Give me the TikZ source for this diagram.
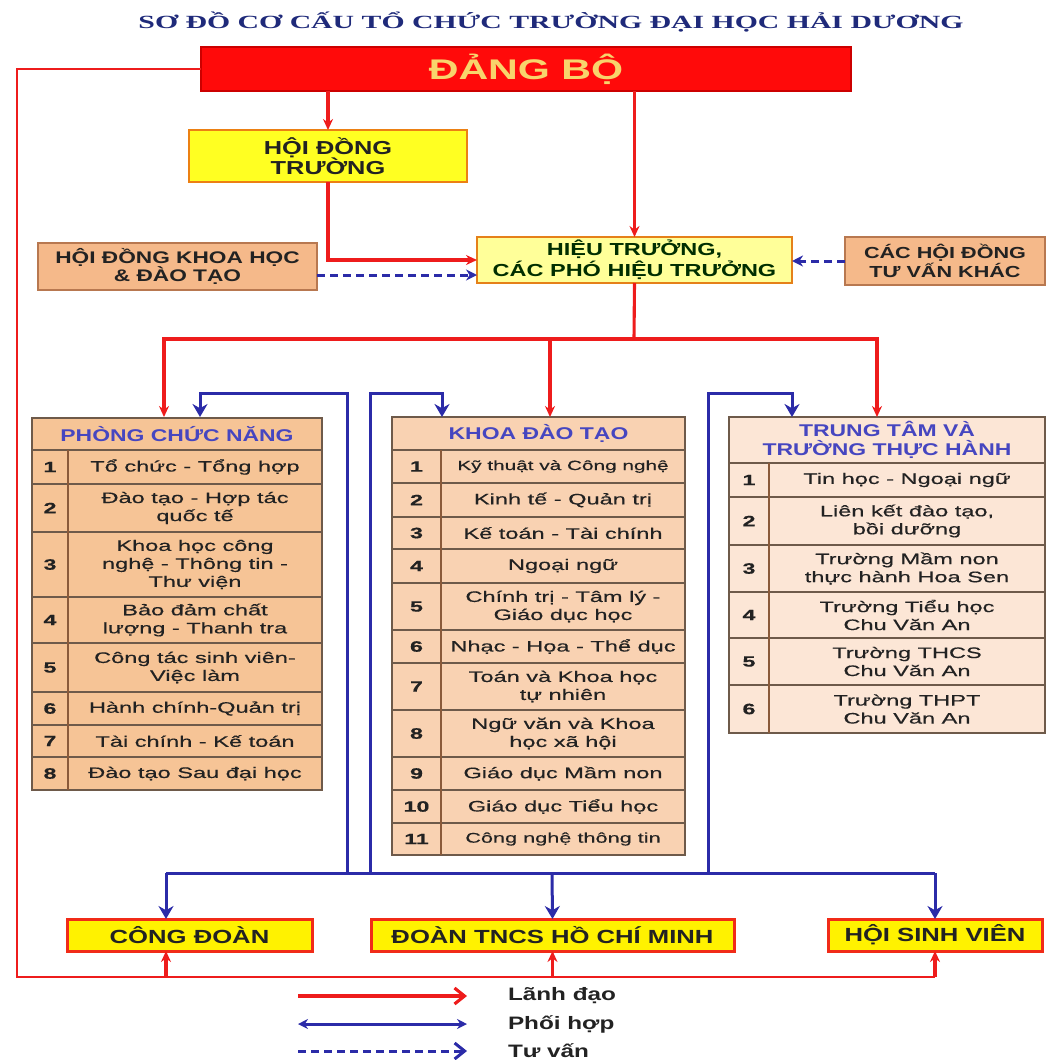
\documentclass[tikz,border=0pt]{standalone}
\usepackage{fontspec}
\setmainfont{Liberation Sans}
\newfontfamily\boxfont[FakeStretch=1.35]{Liberation Sans}
\newfontfamily\cellfont[FakeStretch=1.55,FakeBold=0.4]{Liberation Sans}
\newfontfamily\bigfont[FakeStretch=1.45]{Liberation Sans}
\newfontfamily\titlefont[FakeStretch=1.6]{Liberation Serif}
\usepackage{xcolor}
\usetikzlibrary{arrows.meta,positioning,calc}

\definecolor{leadred}{HTML}{EE1C1C}
\definecolor{coopblue}{HTML}{2B2BA8}
\definecolor{titleblue}{HTML}{1F2A7A}
\definecolor{headblue}{HTML}{4646C0}
\definecolor{partyred}{HTML}{FF0A0A}
\definecolor{partytext}{HTML}{F8D46C}
\definecolor{councilyellow}{HTML}{FFFF22}
\definecolor{rectoryellow}{HTML}{FFFF99}
\definecolor{peach}{HTML}{F5B98A}
\definecolor{peachline}{HTML}{B87850}
\definecolor{pcnfill}{HTML}{F6C496}
\definecolor{kdtfill}{HTML}{F9D2B2}
\definecolor{ttfill}{HTML}{FCE6D6}
\definecolor{cellline}{HTML}{6E5A4A}
\definecolor{divline}{HTML}{8A5A3A}
\definecolor{textdark}{HTML}{222222}

\begin{document}
\begin{tikzpicture}[
  x=0.5pt, y=-0.5pt,
  >={Stealth[length=5.5pt,width=5pt]},
  every node/.style={inner sep=0pt, outer sep=0pt, text=textdark},
  wire/.style={draw=leadred, line width=1.55pt},
  lead/.style={wire, ->},
  coopwire/.style={draw=coopblue, line width=1.5pt},
  coop/.style={coopwire, -{Stealth[length=6.5pt,width=7.5pt]}},
  adv/.style={draw=coopblue, line width=1.5pt, dash pattern=on 4pt off 2.5pt, -{Stealth[length=5.5pt,width=5.5pt]}},
  unitbox/.style={draw=peachline, line width=1pt, align=center, font=\boxfont\bfseries\fontsize{8.4}{9.2}\selectfont},
  massbox/.style={draw=leadred!85!orange, fill=yellow, line width=1.5pt, minimum height=16pt, font=\boxfont\bfseries\fontsize{9.5}{11}\selectfont},
  hdr/.style={draw=cellline, line width=0.7pt, anchor=north west, align=center, text=headblue, font=\boxfont\bfseries\fontsize{8.5}{9.5}\selectfont},
  numcell/.style={draw=cellline, line width=0.7pt, anchor=north west, font=\cellfont\bfseries\fontsize{7.5}{9}\selectfont},
  txtcell/.style={draw=cellline, line width=0.7pt, anchor=north west, align=center, font=\cellfont\fontsize{7.6}{9}\selectfont},
  divider/.style={draw=divline, line width=1.4pt},
  keytext/.style={anchor=west, font=\boxfont\bfseries\fontsize{9}{10}\selectfont},
]
  \useasboundingbox (0,0) rectangle (1057,1060);

  \node[text=titleblue, font=\titlefont\bfseries\fontsize{9.3}{11}\selectfont] (title) at (551,22)
    {SƠ ĐỒ CƠ CẤU TỔ CHỨC TRƯỜNG ĐẠI HỌC HẢI DƯƠNG};

  % leadership boxes
  \node[fill=partyred, draw=red!80!black, line width=0.6pt, minimum width=325pt, minimum height=22pt,
        text=partytext, font=\bigfont\bfseries\fontsize{14.2}{16}\selectfont] (dang) at (526,69) {ĐẢNG BỘ};
  \node[unitbox, fill=councilyellow, draw=orange!70!brown, minimum width=139pt, minimum height=26pt,
        font=\boxfont\bfseries\fontsize{9.4}{10.2}\selectfont] (hdt) at (328,156) {HỘI ĐỒNG\\TRƯỜNG};
  \node[unitbox, fill=rectoryellow, draw=orange!60!brown, minimum width=157.5pt, minimum height=23pt,
        text=black!70!green!60!black, font=\boxfont\bfseries\fontsize{8.7}{9}\selectfont] (ht) at (634.5,260)
        {HIỆU TRƯỞNG,\\CÁC PHÓ HIỆU TRƯỞNG};
  \node[unitbox, fill=peach, minimum width=139.5pt, minimum height=23.5pt] (hdkh) at (177.5,266.5)
        {HỘI ĐỒNG KHOA HỌC\\\& ĐÀO TẠO};
  \node[unitbox, fill=peach, minimum width=100pt, minimum height=24pt,
        font=\boxfont\bfseries\fontsize{8}{9.2}\selectfont] (tvk) at (945,261) {CÁC HỘI ĐỒNG\\TƯ VẤN KHÁC};

  % mass organisations
  \node[massbox, minimum width=122.5pt] (cd) at (189.5,935) {CÔNG ĐOÀN};
  \node[massbox, minimum width=181.5pt] (doan) at (552.5,935) {ĐOÀN TNCS HỒ CHÍ MINH};
  \node[massbox, minimum width=107pt] (hsv) at (935,935) {HỘI SINH VIÊN};

  % tables
  \node[hdr, fill=pcnfill, minimum width=145pt, minimum height=16pt] (pcnh) at (32,418) {PHÒNG CHỨC NĂNG};
  \foreach \idx/\ya/\yb/\txt in {1/450/484/{Tổ chức - Tổng hợp},
      2/484/532/{Đào tạo - Hợp tác\\quốc tế},
      3/532/597/{Khoa học công\\nghệ - Thông tin -\\Thư viện},
      4/597/643/{Bảo đảm chất\\lượng - Thanh tra},
      5/643/692/{Công tác sinh viên-\\Việc làm},
      6/692/725/{Hành chính-Quản trị},
      7/725/757/{Tài chính - Kế toán},
      8/757/790/{Đào tạo Sau đại học}}{
    \node[numcell, fill=pcnfill, minimum width=18pt, minimum height={(\yb-\ya)*0.5pt}] (pcn-n\idx) at (32,\ya) {\idx};
    \node[txtcell, fill=pcnfill, minimum width=127pt, minimum height={(\yb-\ya)*0.5pt}] (pcn-t\idx) at (68,\ya) {\txt};
  }
  \draw[divider] (pcn-n1.north east) -- (pcn-n8.south east);

  \node[hdr, fill=kdtfill, minimum width=146.5pt, minimum height=16.5pt] (kdth) at (392,417) {KHOA ĐÀO TẠO};
  \foreach \idx/\ya/\yb/\txt in {1/450/483/{{\fontsize{6.7}{9}\selectfont Kỹ thuật và Công nghệ}},
      2/483/517/{Kinh tế - Quản trị},
      3/517/549/{Kế toán - Tài chính},
      4/549/583/{Ngoại ngữ},
      5/583/630/{Chính trị - Tâm lý -\\Giáo dục học},
      6/630/663/{Nhạc - Họa - Thể dục},
      7/663/710/{Toán và Khoa học\\tự nhiên},
      8/710/757/{Ngữ văn và Khoa\\học xã hội},
      9/757/790/{Giáo dục Mầm non},
      10/790/823/{Giáo dục Tiểu học},
      11/823/855/{{\fontsize{7}{9}\selectfont Công nghệ thông tin}}}{
    \node[numcell, fill=kdtfill, minimum width=24.5pt, minimum height={(\yb-\ya)*0.5pt}] (kdt-n\idx) at (392,\ya) {\idx};
    \node[txtcell, fill=kdtfill, minimum width=122pt, minimum height={(\yb-\ya)*0.5pt}] (kdt-t\idx) at (441,\ya) {\txt};
  }
  \draw[divider] (kdt-n1.north east) -- (kdt-n11.south east);

  \node[hdr, fill=ttfill, minimum width=158pt, minimum height=23pt] (tth) at (729,417) {TRUNG TÂM VÀ\\TRƯỜNG THỰC HÀNH};
  \foreach \idx/\ya/\yb/\txt in {1/463/497/{Tin học - Ngoại ngữ},
      2/497/545/{Liên kết đào tạo,\\bồi dưỡng},
      3/545/592/{Trường Mầm non\\thực hành Hoa Sen},
      4/592/638/{Trường Tiểu học\\Chu Văn An},
      5/638/685/{Trường THCS\\Chu Văn An},
      6/685/733/{Trường THPT\\Chu Văn An}}{
    \node[numcell, fill=ttfill, minimum width=20pt, minimum height={(\yb-\ya)*0.5pt}] (tt-n\idx) at (729,\ya) {\idx};
    \node[txtcell, fill=ttfill, minimum width=138pt, minimum height={(\yb-\ya)*0.5pt}] (tt-t\idx) at (769,\ya) {\txt};
  }
  \draw[divider] (tt-n1.north east) -- (tt-n6.south east);

  % leadership lines
  \coordinate (rbus) at (634,339);
  \coordinate (pcnR) at (164,417);
  \coordinate (kdtR) at (550,417);
  \coordinate (ttR) at (877,417);
  \coordinate (rail) at (17,977);
  \coordinate (cdout) at (166,951);
  \draw[lead] (dang.south -| hdt.north) -- (hdt.north);
  \draw[lead] (dang.south -| ht.north) -- (ht.north);
  \draw[lead] (hdt.south) |- (ht.west);
  \draw[wire] (ht.south) -- (rbus);
  \draw[lead] (rbus) -| (pcnR);
  \draw[lead] (rbus) -| (ttR);
  \draw[lead] (rbus -| kdtR) -- (kdtR);
  \draw[wire, line width=1.2pt] (dang.west) -| (rail) -- (rail -| hsv.south);
  \draw[lead] (rail -| cdout) -- (cdout);
  \draw[lead] (rail -| doan.south) -- (doan.south);
  \draw[lead] (rail -| hsv.south) -- (hsv.south);

  % advisory lines
  \draw[adv] ([yshift=-4.25pt]hdkh.east) -- ([yshift=-4.25pt]hdkh.east -| ht.west);
  \draw[adv] (tvk.west) -- (tvk.west -| ht.east);

  % coordination lines
  \coordinate (pcnB) at (200,417);
  \coordinate (kdtB) at (442,417);
  \coordinate (ttB) at (792,417);
  \coordinate (c1) at (347,873);
  \coordinate (c2) at (370,873);
  \coordinate (c3) at (708,873);
  \coordinate (bbus) at (552,873);
  \coordinate (cdin) at (166,919);
  \draw[coop] (c1) -- ++(0,-480) -| (pcnB);
  \draw[coop] (c2) -- ++(0,-480) -| (kdtB);
  \draw[coop] (c3) -- ++(0,-480) -| (ttB);
  \draw[coopwire] (bbus -| cdin) -- (bbus -| hsv.north);
  \draw[coop] (bbus -| cdin) -- (cdin);
  \draw[coop] (bbus) -- (doan.north);
  \draw[coop] (bbus -| hsv.north) -- (hsv.north);

  % legend
  \node[keytext] (key1) at (508,996) {Lãnh đạo};
  \node[keytext] (key2) at (508,1024) {Phối hợp};
  \node[keytext] (key3) at (508,1051) {Tư vấn};
  \draw[wire, -{Straight Barb[length=5pt,width=8pt]}] ([xshift=-105pt]key1.west) -- ([xshift=-20.5pt]key1.west);
  \draw[coopwire, {Stealth[length=5pt,width=5pt]}-{Stealth[length=5pt,width=5pt]}] ([xshift=-105pt]key2.west) -- ([xshift=-20.5pt]key2.west);
  \draw[adv, -{Straight Barb[length=5pt,width=8pt]}] ([xshift=-105pt]key3.west) -- ([xshift=-20.5pt]key3.west);
\end{tikzpicture}
\end{document}
